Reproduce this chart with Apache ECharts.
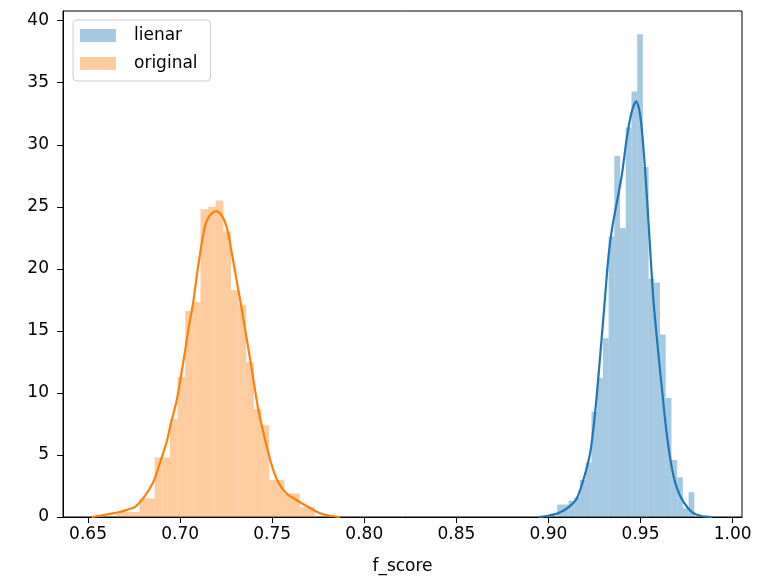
<!DOCTYPE html>
<html><head><meta charset="utf-8">
<script src="https://cdn.jsdelivr.net/npm/echarts@6/dist/echarts.min.js"></script>
<style>html,body{margin:0;padding:0;background:#fff}#c{width:769px;height:576px}</style>
</head><body><div id="c"></div>
<script>
// ---- data ----
const xTicks = [0.65, 0.70, 0.75, 0.80, 0.85, 0.90, 0.95, 1.00];
const yTicks = [0, 5, 10, 15, 20, 25, 30, 35, 40];

const linearBinStart = 0.90473;
const linearBinWidth = 0.003103;
const linearHist = [1.0, 1.0, 1.3, 1.6, 3.0, 4.4, 8.5, 11.2, 14.4, 22.6, 29.1, 23.3, 31.4, 34.3, 38.9, 28.2, 19.2, 18.9, 14.7, 9.6, 4.6, 3.2, 0.7, 2.0];

const originalBinStart = 0.66549;
const originalBinWidth = 0.004141;
const originalHist = [0.4, 0.4, 0.4, 1.5, 1.5, 4.8, 4.8, 7.9, 11.3, 16.6, 17.3, 24.8, 25.0, 25.5, 23.0, 18.3, 17.1, 12.5, 8.7, 7.4, 3.0, 3.0, 1.9, 1.9, 0.8, 0.8];

const linearKdeX = [0.8950,0.8998,0.9042,0.9080,0.9118,0.9154,0.9190,0.9227,0.9254,0.9281,0.9308,0.9326,0.9345,0.9372,0.9399,0.9426,0.9453,0.9477,0.9498,0.9516,0.9535,0.9553,0.9571,0.9598,0.9620,0.9643,0.9671,0.9698,0.9734,0.9779,0.9824,0.9889];
const linearKdeY = [0,0.1,0.25,0.5,0.9,1.5,3.0,5.2,8.5,13.0,17.8,21.0,23.2,25.4,27.6,30.6,32.7,33.5,32.4,29.7,25.7,21.4,17.3,13.0,9.8,6.6,3.9,2.3,1.2,0.4,0.1,0];

const originalKdeX = [0.6520,0.6564,0.6618,0.6672,0.6716,0.6754,0.6799,0.6835,0.6862,0.6889,0.6926,0.6949,0.6980,0.7004,0.7026,0.7047,0.7071,0.7091,0.7107,0.7126,0.7143,0.7167,0.7197,0.7221,0.7243,0.7262,0.7279,0.7297,0.7315,0.7334,0.7352,0.7388,0.7424,0.7460,0.7497,0.7533,0.7578,0.7633,0.7696,0.7759,0.7814,0.7868];
const originalKdeY = [0,0.1,0.25,0.4,0.6,0.8,1.5,2.3,3.1,4.3,6.0,7.5,9.3,11.3,13.3,15.3,17.3,19.5,21.1,22.8,23.8,24.4,24.65,24.4,23.8,22.8,21.4,19.9,18.4,16.8,15.2,12.0,8.7,6.3,4.2,2.8,1.9,1.35,0.8,0.3,0.1,0];

// ---- build ----
function histData(start, width, heights) {
  return heights.map((h, i) => [start + i * width, start + (i + 1) * width, h]);
}
function pairs(xs, ys) { return xs.map((x, i) => [x, ys[i]]); }

const FONT = 'DejaVu Sans';
function renderBar(params, api) {
  const p0 = api.coord([api.value(0), api.value(2)]);
  const p1 = api.coord([api.value(1), 0]);
  return {
    type: 'rect',
    shape: { x: p0[0], y: p0[1], width: p1[0] - p0[0], height: p1[1] - p0[1] },
    style: { fill: api.visual('color') }
  };
}

const chart = echarts.init(document.getElementById('c'), null, { renderer: 'canvas' });
chart.setOption({
  animation: false,
  backgroundColor: '#fff',
  grid: { left: 63, top: 11, width: 679, height: 506, show: true, borderColor: '#000', borderWidth: 1,
          backgroundColor: 'transparent', outerBoundsMode: 'none', containLabel: false },
  legend: {
    data: ['lienar', 'original'],
    orient: 'vertical',
    left: 73, top: 20,
    icon: 'rect',
    itemWidth: 36, itemHeight: 13, itemGap: 11,
    padding: [7, 13, 9, 7],
    borderColor: '#cccccc', borderWidth: 1, borderRadius: 4,
    backgroundColor: 'rgba(255,255,255,0.8)',
    selectedMode: false,
    textStyle: { fontSize: 17, fontFamily: FONT, color: '#000', padding: [0, 0, 0, 13] }
  },
  xAxis: {
    type: 'value', min: 0.6364, max: 1.0051,
    axisLine: { show: true, onZero: false, lineStyle: { color: '#000', width: 1 } },
    axisTick: { show: true, customValues: xTicks, length: 6, lineStyle: { color: '#000', width: 1 } },
    axisLabel: { customValues: xTicks, formatter: v => v.toFixed(2), fontSize: 17, fontFamily: FONT, color: '#000', margin: 9 },
    splitLine: { show: false },
    name: 'f_score', nameLocation: 'middle', nameGap: 41,
    nameTextStyle: { fontSize: 17, fontFamily: FONT, color: '#000' }
  },
  yAxis: {
    type: 'value', min: 0, max: 40.78,
    axisLine: { show: true, onZero: false, lineStyle: { color: '#000', width: 1 } },
    axisTick: { show: true, customValues: yTicks, length: 6, lineStyle: { color: '#000', width: 1 } },
    axisLabel: { customValues: yTicks, fontSize: 17, fontFamily: FONT, color: '#000', margin: 14 },
    splitLine: { show: false }
  },
  series: [
    { name: 'lienar', type: 'custom', renderItem: renderBar, encode: { x: [0, 1], y: 2 },
      itemStyle: { color: 'rgba(31,119,180,0.4)' }, data: histData(linearBinStart, linearBinWidth, linearHist), z: 2 },
    { name: 'lienar kde', type: 'line', showSymbol: false, smooth: 0.3, data: pairs(linearKdeX, linearKdeY),
      lineStyle: { color: '#1f77b4', width: 2.2 }, itemStyle: { color: '#1f77b4' }, z: 3 },
    { name: 'original', type: 'custom', renderItem: renderBar, encode: { x: [0, 1], y: 2 },
      itemStyle: { color: 'rgba(255,127,14,0.4)' }, data: histData(originalBinStart, originalBinWidth, originalHist), z: 2 },
    { name: 'original kde', type: 'line', showSymbol: false, smooth: 0.3, data: pairs(originalKdeX, originalKdeY),
      lineStyle: { color: '#ff7f0e', width: 2.2 }, itemStyle: { color: '#ff7f0e' }, z: 3 }
  ]
});
</script>
</body></html>
